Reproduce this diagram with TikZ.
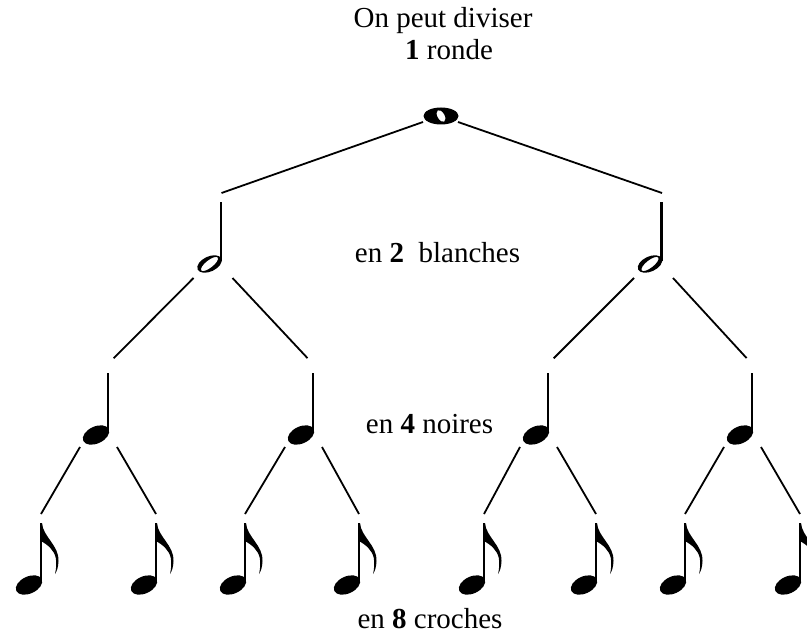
\documentclass[tikz,border=0pt]{standalone}
\usepackage{fontspec}
\setmainfont{Liberation Serif}
\tikzset{
	tige/.style={line width=1.3pt},
	lien/.style={line width=0.9pt},
	ronde/.pic={
		\fill[even odd rule] (0,0) ellipse [x radius=17.5, y radius=8.5]
			(0,0) ellipse [x radius=6.5, y radius=3.6, rotate=-60];
		\coordinate (-l) at (-18,-6);
		\coordinate (-r) at (17,-6);
	},
	blanche/.pic={
		\fill[even odd rule] (0,0) ellipse [x radius=13, y radius=7.5, rotate=25]
			(0,0) ellipse [x radius=10.5, y radius=3.8, rotate=38];
		\draw[tige] (11.5,3) -- (11.5,62);
		\coordinate (-t) at (12,71);
		\coordinate (-l) at (-16,-14);
		\coordinate (-r) at (23,-14);
	},
	noire/.pic={
		\fill (0,0) ellipse [x radius=14, y radius=8.5, rotate=25];
		\draw[tige] (12,2) -- (12,62);
		\coordinate (-t) at (12,71);
		\coordinate (-l) at (-16,-12);
		\coordinate (-r) at (21,-12);
	},
	croche/.pic={
		\fill (0,0) ellipse [x radius=14, y radius=8.5, rotate=25];
		\draw[tige] (12,2) -- (12,62);
		\fill (11,62) -- (13,62) .. controls (14,48) and (30,40) .. (29.5,24)
			.. controls (29.3,18) and (28,14) .. (26,11)
			.. controls (27.5,17) and (27.5,22) .. (26.8,27)
			.. controls (25,35) and (19,40) .. (12,44) -- cycle;
		\coordinate (-t) at (12,71);
	},
}
\begin{document}
\begin{tikzpicture}[x=0.5pt, y=0.5pt,
	every node/.style={font=\fontsize{14.5}{17}\selectfont, inner sep=0pt}]
	\useasboundingbox (0,0) rectangle (807,638);
	% textes
	\node[anchor=base] (titre) at (443,610) {On peut diviser};
	\node[anchor=base] (une) at (449,578) {\textbf{1} ronde};
	\node[anchor=base] (deux) at (437.5,376) {en \textbf{2}\ \ blanches};
	\node[anchor=base] (quatre) at (429.5,205) {en \textbf{4} noires};
	\node[anchor=base] (huit) at (430,10) {en \textbf{8} croches};
	% notes
	\pic (r) at (441,522) {ronde};
	\pic (b1) at (209.5,374) {blanche};
	\pic (b2) at (650,374) {blanche};
	\foreach \i/\x in {1/96, 2/301, 3/536, 4/740}
		\pic (n\i) at (\x,203) {noire};
	\foreach \i/\x in {1/29, 2/144, 3/233, 4/347, 5/472, 6/584, 7/673, 8/788}
		\pic (c\i) at (\x,53) {croche};
	% liens
	\draw[lien] (r-l) -- (b1-t);
	\draw[lien] (r-r) -- (b2-t);
	\foreach \p/\g/\d in {b1/n1/n2, b2/n3/n4}
	{
		\draw[lien, shorten >=4pt] (\p-l) -- (\g-t);
		\draw[lien, shorten >=4pt] (\p-r) -- (\d-t);
	};
	\foreach \p/\g/\d in {n1/c1/c2, n2/c3/c4, n3/c5/c6, n4/c7/c8}
	{
		\draw[lien] (\p-l) -- (\g-t);
		\draw[lien] (\p-r) -- (\d-t);
	};
\end{tikzpicture}
\end{document}
